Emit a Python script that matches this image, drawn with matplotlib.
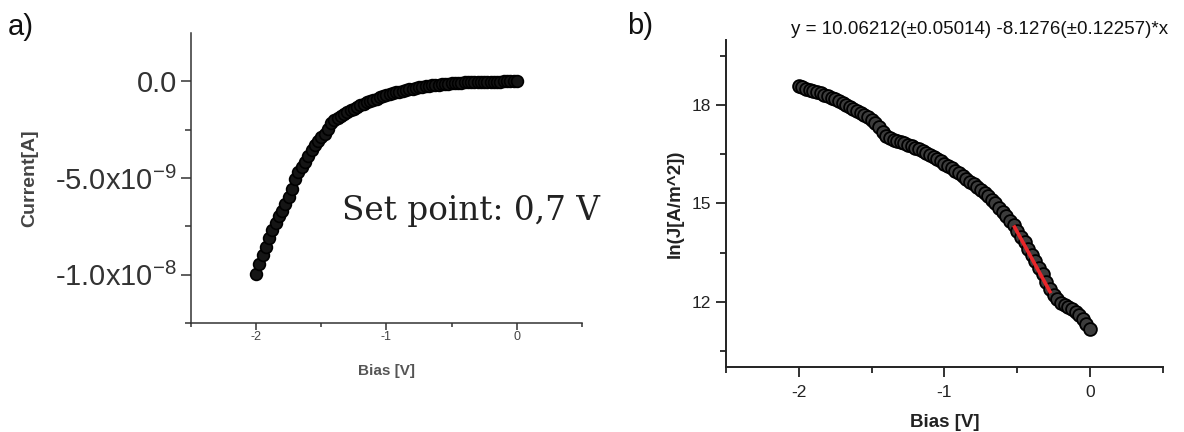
import numpy as np
import matplotlib
matplotlib.use("Agg")
from matplotlib import pyplot as plt
from matplotlib.ticker import FixedLocator, MultipleLocator, FuncFormatter

plt.rcParams['font.family'] = ['Liberation Sans', 'DejaVu Sans']
plt.rcParams['mathtext.fontset'] = 'custom'
plt.rcParams['mathtext.rm'] = 'Liberation Sans'
plt.rcParams['mathtext.it'] = 'Liberation Sans:italic'
plt.rcParams['axes.unicode_minus'] = False

# bias sweep shared by both panels (V)
bias = np.round(np.arange(-2.0, 0.0001, 0.025), 3)

# I-V curve, current in units of 1e-9 A
current_nA = [
    -9.97, -9.45, -9.00, -8.55, -8.10, -7.68, -7.30, -6.95, -6.70, -6.35,
    -6.00, -5.55, -5.05, -4.70, -4.42, -4.15, -3.85, -3.55, -3.30, -3.10,
    -2.90, -2.70, -2.45, -2.15, -2.02, -1.90, -1.78, -1.67, -1.58, -1.49,
    -1.40, -1.31, -1.23, -1.15, -1.08, -1.01, -0.95, -0.89, -0.83, -0.77,
    -0.72, -0.67, -0.62, -0.57, -0.53, -0.49, -0.45, -0.41, -0.38, -0.34,
    -0.31, -0.28, -0.25, -0.23, -0.20, -0.18, -0.16, -0.14, -0.12, -0.11,
    -0.09, -0.08, -0.07, -0.06, -0.05, -0.04, -0.04, -0.03, -0.03, -0.02,
    -0.02, -0.02, -0.01, -0.01, -0.01, -0.01, 0.00, 0.00, 0.00, 0.00, 0.00,
]

# ln of current density, ln(J[A/m^2])
ln_j = [
    18.58, 18.55, 18.51, 18.47, 18.44, 18.40, 18.37, 18.33, 18.29, 18.24,
    18.19, 18.13, 18.08, 18.02, 17.96, 17.90, 17.84, 17.78, 17.71, 17.63,
    17.55, 17.45, 17.33, 17.18, 17.06, 17.00, 16.95, 16.91, 16.88, 16.84,
    16.80, 16.76, 16.71, 16.66, 16.60, 16.55, 16.49, 16.42, 16.36, 16.29,
    16.22, 16.15, 16.07, 16.00, 15.92, 15.84, 15.76, 15.67, 15.59, 15.50,
    15.41, 15.32, 15.22, 15.11, 15.00, 14.87, 14.74, 14.61, 14.47, 14.33,
    14.16, 13.99, 13.81, 13.62, 13.43, 13.24, 13.04, 12.84, 12.60, 12.38,
    12.20, 12.07, 11.97, 11.90, 11.83, 11.76, 11.68, 11.58, 11.47, 11.32,
    11.16,
]

# linear fit over the steep part
fit_a, fit_b = 10.06212, -8.1276
fit_range = [-0.525, -0.27]

fig = plt.figure(figsize=(11.84, 4.32), dpi=100)

# ---- panel a ----
ax1 = fig.add_axes([0.1613, 0.2523, 0.3302, 0.671])
ax1.scatter(bias, np.array(current_nA) * 1e-9, s=72, facecolors='#151515',
            edgecolors='black', linewidths=1.2, zorder=3)
ax1.set_xlim(-2.5, 0.5)
ax1.set_ylim(-1.25e-8, 2.5e-9)
ax1.xaxis.set_major_locator(FixedLocator([-2, -1, 0]))
ax1.xaxis.set_minor_locator(MultipleLocator(0.5))
ax1.yaxis.set_major_locator(FixedLocator([0, -5e-9, -1e-8]))
ax1.yaxis.set_minor_locator(FixedLocator([-2.5e-9, -7.5e-9, -1.25e-8]))

def current_fmt(v, pos):
    if abs(v) < 1e-15:
        return '0.0'
    exp = int(np.floor(np.log10(abs(v))))
    mant = v / 10 ** exp
    return '%.1fx10$^{%d}$' % (mant, exp)

ax1.yaxis.set_major_formatter(FuncFormatter(current_fmt))
ax1.xaxis.set_major_formatter(FuncFormatter(lambda v, p: '%d' % v))
ax1.tick_params(axis='y', which='major', labelsize=21, length=7, width=1.1,
                colors='#333333', pad=3)
ax1.tick_params(axis='y', which='minor', length=4, width=1.1, colors='#333333')
ax1.tick_params(axis='x', which='major', labelsize=9, length=5, width=1.1,
                colors='#333333', pad=1)
ax1.tick_params(axis='x', which='minor', length=3, width=1.1, colors='#333333')
for lbl in ax1.get_xticklabels():
    lbl.set_color('#444444')
ax1.set_ylabel('Current[A]', fontsize=14, fontweight='bold', color='#444444',
               labelpad=12)
ax1.set_xlabel('Bias [V]', fontsize=11, fontweight='bold', color='#555555',
               labelpad=15)
ax1.text(0.386, 0.355, 'Set point: 0,7 V', transform=ax1.transAxes,
         fontsize=23.5, family='DejaVu Serif', color='#222222',
         ha='left', va='baseline', clip_on=False)

# ---- panel b ----
ax2 = fig.add_axes([0.6132, 0.1505, 0.369, 0.757])
ax2.scatter(bias, ln_j, s=85, facecolors='#3c3c3c', edgecolors='black',
            linewidths=1.3, zorder=3)
fx = np.array(fit_range)
ax2.plot(fx, fit_a + fit_b * fx, color='#e8262a', lw=2.6, zorder=4,
         solid_capstyle='butt')
ax2.set_xlim(-2.5, 0.5)
ax2.set_ylim(10, 20)
ax2.xaxis.set_major_locator(FixedLocator([-2, -1, 0]))
ax2.xaxis.set_minor_locator(MultipleLocator(0.5))
ax2.yaxis.set_major_locator(FixedLocator([12, 15, 18]))
ax2.yaxis.set_minor_locator(FixedLocator([10.5, 13.5, 16.5, 19.5]))
ax2.xaxis.set_major_formatter(FuncFormatter(lambda v, p: '%d' % v))
ax2.tick_params(axis='both', which='major', labelsize=12.5, length=7,
                width=1.3, colors='#222222')
ax2.tick_params(axis='x', which='major', pad=6)
ax2.tick_params(axis='both', which='minor', length=4, width=1.3,
                colors='#222222')
ax2.set_ylabel('ln(J[A/m^2])', fontsize=13.5, fontweight='bold',
               color='#222222', labelpad=6)
ax2.set_xlabel('Bias [V]', fontsize=13.5, fontweight='bold', color='#222222',
               labelpad=10)

for ax, c, w in ((ax1, '#333333', 1.1), (ax2, '#222222', 1.4)):
    ax.spines['top'].set_visible(False)
    ax.spines['right'].set_visible(False)
    for side in ('left', 'bottom'):
        ax.spines[side].set_color(c)
        ax.spines[side].set_linewidth(w)

fig.text(980 / 1184, 1 - 30 / 432,
         'y = %.5f(\u00b10.05014) %.4f(\u00b10.12257)*x' % (fit_a, fit_b),
         fontsize=13.5, ha='center', va='center', color='#111111')
fig.text(8 / 1184, 1 - 27 / 432, 'a)', fontsize=21, ha='left', va='center',
         color='#111111')
fig.text(627 / 1184, 1 - 26 / 432, 'b)', fontsize=21, ha='left', va='center',
         color='#111111')

fig.savefig('out.png', dpi=100, facecolor='white')
